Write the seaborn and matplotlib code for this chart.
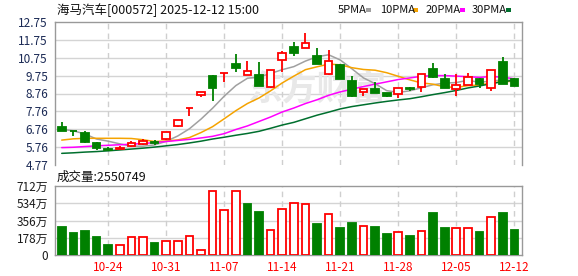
import numpy as np
import pandas as pd
import matplotlib
matplotlib.use("Agg")
import matplotlib.pyplot as plt
import seaborn as sns
from matplotlib.patches import Rectangle

sns.set_style("white")
plt.rcParams['font.family'] = ['Noto Sans CJK SC', 'DejaVu Sans']

# ---------------- data ----------------
dates = ['10-20', '10-21', '10-22', '10-23', '10-24', '10-27', '10-28', '10-29', '10-30', '10-31',
         '11-03', '11-04', '11-05', '11-06', '11-07', '11-10', '11-11', '11-12', '11-13', '11-14',
         '11-17', '11-18', '11-19', '11-20', '11-21', '11-24', '11-25', '11-26', '11-27', '11-28',
         '12-01', '12-02', '12-03', '12-04', '12-05', '12-08', '12-09', '12-10', '12-11', '12-12']
opens = [6.89, 6.69, 6.57, 5.98, 5.68, 5.65, 5.83, 5.96, 6.03, 6.20,
         6.95, 7.93, 8.70, 9.74, 9.89, 10.41, 9.78, 9.79, 9.12, 10.61,
         11.35, 11.28, 10.84, 9.86, 10.35, 9.46, 8.83, 9.01, 8.79, 8.72,
         9.05, 9.14, 10.13, 9.57, 8.99, 9.25, 9.57, 9.08, 10.50, 9.57]
closes = [6.67, 6.66, 6.07, 5.70, 5.59, 5.72, 6.00, 6.11, 6.01, 6.59,
          7.26, 7.97, 8.84, 9.05, 9.92, 10.20, 10.02, 9.20, 10.05, 11.00,
          11.04, 11.56, 10.42, 10.57, 9.55, 8.60, 9.01, 8.80, 8.64, 9.05,
          9.03, 9.86, 9.66, 9.08, 9.22, 9.68, 9.27, 10.05, 9.31, 9.20]
highs = [7.19, 6.69, 6.67, 6.07, 5.76, 5.83, 6.11, 6.24, 6.16, 6.62,
         7.28, 7.97, 8.86, 9.79, 9.92, 10.95, 10.57, 10.50, 10.06, 11.13,
         11.65, 12.14, 11.32, 11.19, 10.39, 9.75, 9.02, 9.38, 8.80, 9.06,
         9.14, 9.87, 10.48, 9.83, 9.83, 9.89, 9.60, 10.07, 10.78, 9.64]
lows = [6.64, 6.38, 5.98, 5.61, 5.59, 5.65, 5.76, 5.89, 5.89, 6.18,
        6.87, 7.52, 8.56, 8.34, 9.38, 9.98, 9.78, 9.18, 9.05, 9.98,
        10.87, 11.28, 10.40, 9.79, 9.55, 8.58, 8.64, 8.80, 8.55, 8.49,
        8.90, 8.86, 9.61, 9.06, 8.64, 9.22, 9.05, 8.92, 9.30, 9.20]
prev_close_first = 6.85
volume_wan = [289, 230, 248, 186, 103, 100, 182, 182, 124, 144,
              144, 193, 48, 657, 461, 657, 526, 444, 255, 471,
              533, 523, 320, 420, 279, 330, 296, 289, 217, 234,
              196, 244, 433, 279, 275, 275, 237, 389, 433, 255.0749]
ma5 = [6.76, 6.68, 6.50, 6.22, 6.10, 5.95, 5.82, 5.82, 5.89, 6.09,
       6.39, 6.79, 7.33, 7.94, 8.61, 9.20, 9.61, 9.68, 9.88, 10.09,
       10.26, 10.57, 10.81, 10.92, 10.63, 10.14, 9.63, 9.31, 8.92, 8.82,
       8.91, 9.08, 9.25, 9.34, 9.37, 9.50, 9.38, 9.46, 9.51, 9.50]
ma10 = [6.16, 6.23, 6.26, 6.26, 6.26, 6.26, 6.25, 6.18, 6.08, 6.11,
        6.17, 6.30, 6.58, 6.91, 7.35, 7.80, 8.20, 8.51, 8.91, 9.35,
        9.73, 10.09, 10.25, 10.40, 10.36, 10.20, 10.10, 10.06, 9.92, 9.72,
        9.52, 9.35, 9.28, 9.13, 9.10, 9.20, 9.23, 9.35, 9.42, 9.44]
ma20 = [5.74, 5.76, 5.80, 5.84, 5.87, 5.90, 5.93, 5.97, 6.02, 6.08,
        6.14, 6.20, 6.28, 6.37, 6.52, 6.75, 6.95, 7.20, 7.45, 7.73,
        7.95, 8.20, 8.41, 8.66, 8.85, 9.00, 9.15, 9.28, 9.41, 9.54,
        9.63, 9.72, 9.76, 9.76, 9.73, 9.70, 9.66, 9.71, 9.67, 9.58]
ma30 = [5.42, 5.45, 5.49, 5.52, 5.56, 5.61, 5.66, 5.71, 5.77, 5.84,
        5.91, 6.00, 6.10, 6.22, 6.32, 6.43, 6.53, 6.65, 6.82, 7.00,
        7.15, 7.35, 7.55, 7.72, 7.90, 8.03, 8.13, 8.23, 8.32, 8.40,
        8.47, 8.58, 8.70, 8.81, 8.93, 9.07, 9.18, 9.31, 9.42, 9.50]
price_ticks = [4.77, 5.76, 6.76, 7.76, 8.76, 9.75, 10.75, 11.75, 12.75]
vol_ticks = [0, 178, 356, 534, 712]
vol_tick_labels = ['0', '178万', '356万', '534万', '712万']
date_tick_labels = ['10-24', '10-31', '11-07', '11-14', '11-21', '11-28', '12-05', '12-12']
title_text = '海马汽车[000572] 2025-12-12 15:00'
vol_title = '成交量:2550749'
ma_names = ['5PMA', '10PMA', '20PMA', '30PMA']

# ---------------- styles ----------------
RED = '#ff0000'
GREEN = '#008000'
MA_COLORS = ['#a0a0a0', '#f5a300', '#ff00ff', '#006f2e']
GRID = '#d4d4d4'
SPINE = '#999999'
LABEL = '#1b2a55'

df = pd.DataFrame({'date': dates, 'open': opens, 'close': closes, 'high': highs, 'low': lows,
                   'vol': volume_wan, 'ma5': ma5, 'ma10': ma10, 'ma20': ma20, 'ma30': ma30})
df['idx'] = np.arange(len(df))
df['up'] = df['close'] >= df['open']
prev = [prev_close_first] + closes[:-1]
df['vol_up'] = df['close'].values >= np.array(prev)

W, H = 578, 276
fig = plt.figure(figsize=(W / 100, H / 100), dpi=100)
ax = fig.add_axes([55 / W, 1 - 165 / H, 467 / W, 143 / H])
axv = fig.add_axes([55 / W, 1 - 255 / H, 467 / W, 69 / H])

xlim = (-0.58, 39.66)
tick_idx = [df.index[df['date'] == d][0] for d in date_tick_labels]

# ---------- main price chart ----------
ax.set_xlim(*xlim)
ax.set_ylim(price_ticks[0], price_ticks[-1])
for t in price_ticks[1:-1]:
    ax.axhline(t, color=GRID, lw=1, zorder=0)
for t in tick_idx:
    ax.axvline(t, color='#cfcfcf', lw=1, ls=(0, (4, 3)), zorder=0)

ax.text(22.0, 9.0, '东方财富', fontsize=25, color='#e8e8e8', ha='center', va='center',
        weight='bold', zorder=0.5)

for col, c in zip(['ma5', 'ma10', 'ma20', 'ma30'], MA_COLORS):
    sns.lineplot(data=df, x='idx', y=col, color=c, lw=1.1, ax=ax, estimator=None, zorder=2)

ecol = np.where(df['up'], RED, GREEN)
fcol = np.where(df['up'], 'white', GREEN)
ax.vlines(df['idx'], df['low'], df['high'], colors=ecol, lw=1.3, zorder=3)
body_h = (df['close'] - df['open']).abs().clip(lower=0.001)
body_b = df[['open', 'close']].min(axis=1)
ax.bar(df['idx'], body_h, bottom=body_b, width=0.66, color=fcol, edgecolor=ecol,
       linewidth=1.3, zorder=4)

ax.set_yticks(price_ticks)
ax.set_yticklabels([f'{t:.2f}' for t in price_ticks])
ax.set_xticks([])
ax.set_xlabel('')
ax.set_ylabel('')
ax.tick_params(axis='y', length=3, width=1, color=SPINE, labelsize=8.5, labelcolor=LABEL, pad=2)
for s in ['top', 'left', 'right']:
    ax.spines[s].set_color(SPINE)
    ax.spines[s].set_linewidth(1)
ax.spines['bottom'].set_visible(False)

# ---------- volume chart ----------
axv.set_xlim(*xlim)
axv.set_ylim(0, 712)
for t in vol_ticks[1:-1]:
    axv.axhline(t, color=GRID, lw=1, zorder=0)
for t in tick_idx:
    axv.axvline(t, color='#cfcfcf', lw=1, ls=(0, (4, 3)), zorder=0)
vcol_e = np.where(df['vol_up'], RED, GREEN)
vcol_f = np.where(df['vol_up'], 'white', GREEN)
axv.bar(df['idx'], df['vol'], width=0.66, color=vcol_f, edgecolor=vcol_e, linewidth=1.3, zorder=3)
axv.set_yticks(vol_ticks)
axv.set_yticklabels(vol_tick_labels)
axv.set_xticks(tick_idx)
axv.set_xticklabels(date_tick_labels)
axv.tick_params(axis='y', length=3, width=1, color=SPINE, labelsize=8.5, labelcolor='#1a1a1a', pad=2)
axv.tick_params(axis='x', length=0, labelsize=8.5, labelcolor=RED, pad=4)
for s in ['top', 'left', 'right', 'bottom']:
    axv.spines[s].set_color(SPINE)
    axv.spines[s].set_linewidth(1)

# ---------- titles & legend ----------
fig.text(57 / W, 1 - 10 / H, title_text, fontsize=9, va='center', ha='left', color='#111111')
fig.text(57 / W, 1 - 177 / H, vol_title, fontsize=9, va='center', ha='left', color='#111111')

leg_x = [338, 380, 426, 472]
patch_x = [366, 413, 460, 506]
for name, tx, px, c in zip(ma_names, leg_x, patch_x, MA_COLORS):
    fig.text(tx / W, 1 - 10 / H, name, fontsize=8, va='center', ha='left', color='#111111')
    fig.patches.append(Rectangle((px / W, 1 - 11.5 / H), 5 / W, 4 / H, transform=fig.transFigure,
                                 facecolor=c, edgecolor='none', figure=fig))

fig.savefig('out.png', dpi=100, facecolor='white')
